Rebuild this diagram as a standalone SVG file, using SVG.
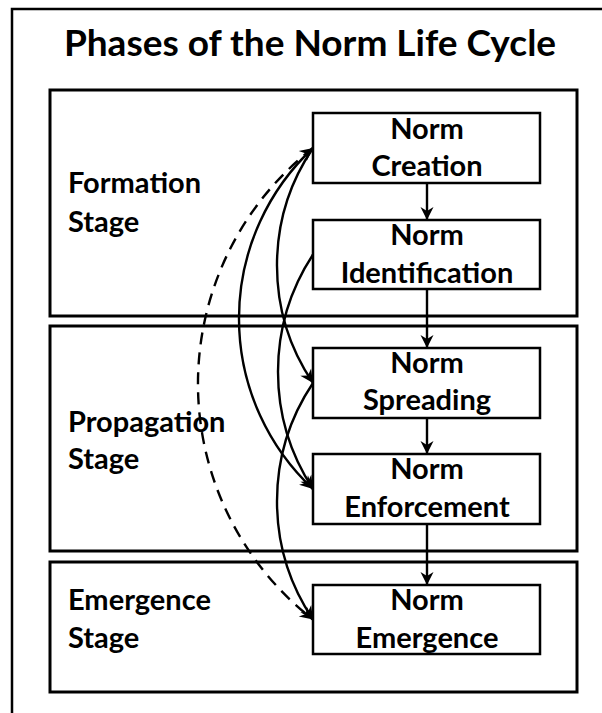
<svg xmlns="http://www.w3.org/2000/svg" width="602" height="713" viewBox="0 0 602 713">
  <style>
    text { font-family: "Lato", "Liberation Sans", sans-serif; font-weight: 700; fill: #000; }
    .title { font-size: 37px; text-anchor: middle; }
    .stage-label { font-size: 29px; }
    .node-label { font-size: 29px; text-anchor: middle; }
    .frame { fill: none; stroke: #000; stroke-width: 2.5; }
    .stage { fill: none; stroke: #000; stroke-width: 3; }
    .node rect { fill: #fff; stroke: #000; stroke-width: 2.5; }
    .link { fill: none; stroke: #000; stroke-width: 2.4; marker-end: url(#arrow); }
    .dashed { stroke-dasharray: 12 8; marker-start: url(#arrow); }
  </style>
  <defs>
    <marker id="arrow" viewBox="-15 -8 16 16" refX="0" refY="0" markerWidth="16" markerHeight="16" markerUnits="userSpaceOnUse" orient="auto-start-reverse">
      <path d="M0,0 L-13,-6.5 L-9,0 L-13,6.5 Z" fill="#000"/>
    </marker>
  </defs>

  <rect width="602" height="713" fill="#fff"/>

  <!-- outer frame, running past the right and bottom edges -->
  <rect class="frame" x="12" y="9" width="620" height="720"/>
  <text class="title" x="310" y="56">Phases of the Norm Life Cycle</text>

  <!-- stages -->
  <g id="stage-formation">
    <rect class="stage" x="50" y="90" width="527" height="226"/>
    <text class="stage-label" x="68" y="193">Formation</text>
    <text class="stage-label" x="68" y="232">Stage</text>
  </g>
  <g id="stage-propagation">
    <rect class="stage" x="50" y="326" width="527" height="225"/>
    <text class="stage-label" x="68" y="432">Propagation</text>
    <text class="stage-label" x="68" y="469">Stage</text>
  </g>
  <g id="stage-emergence">
    <rect class="stage" x="50" y="562" width="527" height="130"/>
    <text class="stage-label" x="68" y="610">Emergence</text>
    <text class="stage-label" x="68" y="648">Stage</text>
  </g>

  <!-- phases -->
  <g id="norm-creation" class="node">
    <rect x="313" y="113" width="227" height="70"/>
    <text class="node-label" x="427" y="139">Norm</text>
    <text class="node-label" x="427" y="176">Creation</text>
  </g>
  <g id="norm-identification" class="node">
    <rect x="313" y="220" width="227" height="69"/>
    <text class="node-label" x="427" y="245">Norm</text>
    <text class="node-label" x="427" y="283">Identification</text>
  </g>
  <g id="norm-spreading" class="node">
    <rect x="313" y="348" width="227" height="70"/>
    <text class="node-label" x="427" y="373">Norm</text>
    <text class="node-label" x="427" y="410">Spreading</text>
  </g>
  <g id="norm-enforcement" class="node">
    <rect x="313" y="454" width="227" height="70"/>
    <text class="node-label" x="427" y="479">Norm</text>
    <text class="node-label" x="427" y="517">Enforcement</text>
  </g>
  <g id="norm-emergence" class="node">
    <rect x="313" y="585" width="227" height="69"/>
    <text class="node-label" x="427" y="610">Norm</text>
    <text class="node-label" x="427" y="648">Emergence</text>
  </g>

  <!-- connectors -->
  <g id="connectors">
    <path class="link" d="M427,183 L427,220"/>
    <path class="link" d="M427,289 L427,348"/>
    <path class="link" d="M427,418 L427,454"/>
    <path class="link" d="M427,524 L427,585"/>
    <!-- curved links bulging to the left of the phase column -->
    <path class="link" d="M313,148 A209.7,209.7 0 0 0 313,383"/>
    <path class="link" d="M313,148 A233.4,233.4 0 0 0 313,489"/>
    <path class="link" d="M313,254.5 A213.9,213.9 0 0 0 313,489"/>
    <path class="link" d="M313,383 A212.2,212.2 0 0 0 313,619.5"/>
    <path class="link dashed" d="M313,148 A299.1,299.1 0 0 0 313,619.5"/>
  </g>
</svg>
